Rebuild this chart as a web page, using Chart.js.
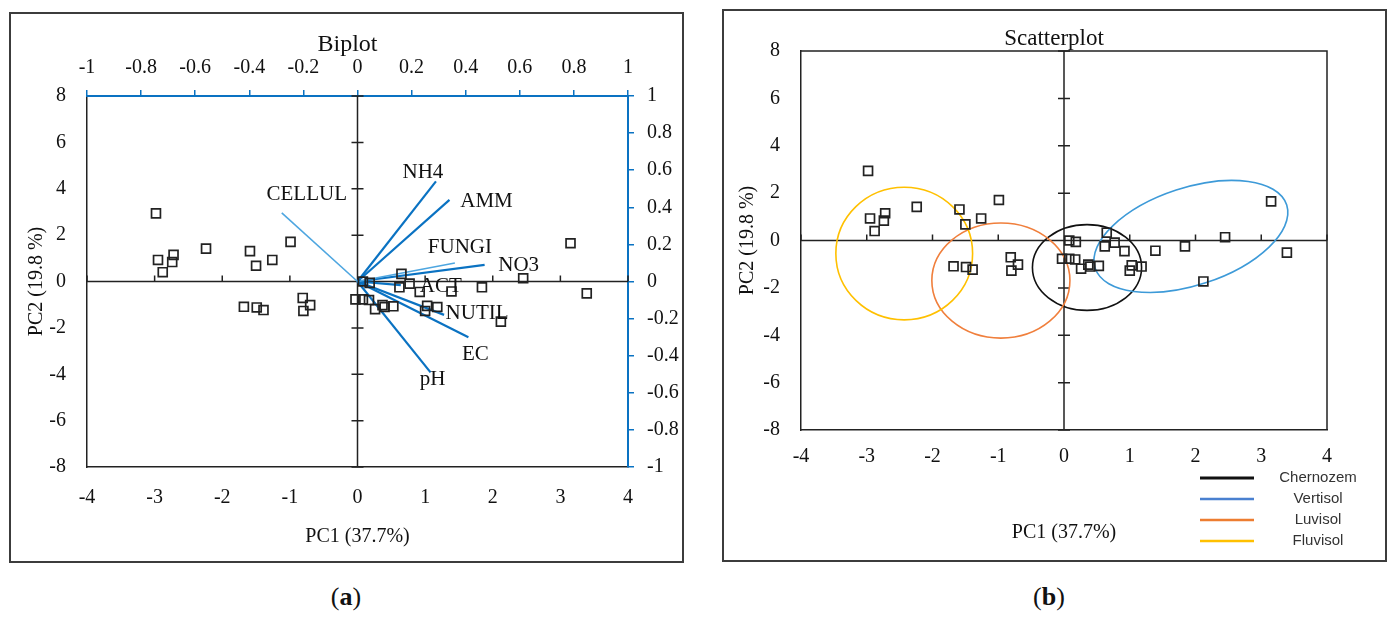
<!DOCTYPE html>
<html lang="en">
<head>
<meta charset="UTF-8">
<title>PCA Biplot and Scatterplot</title>
<script src="https://cdn.jsdelivr.net/npm/chart.js"></script>
<style>
    body {
        margin: 0;
        background: #fff;
        width: 1388px;
        height: 622px;
        position: relative;
        overflow: hidden;
        font-family: 'Liberation Serif', serif;
    }
    .frame {
        position: absolute;
        border: 2px solid #3c3c3c;
        box-sizing: border-box;
    }
    #frameA { left: 9px; top: 12px; width: 675px; height: 551px; }
    #frameB { left: 722px; top: 9px; width: 665px; height: 553px; }
    canvas { position: absolute; left: 0; top: 0; }
    .caption {
        position: absolute;
        width: 100px;
        top: 582px;
        text-align: center;
        font-size: 26px;
        line-height: 30px;
        color: #111;
    }
</style>
</head>
<body>
<div class="frame" id="frameA"><canvas id="biplot" width="671" height="547"></canvas></div>
<div class="frame" id="frameB"><canvas id="scatter" width="661" height="549"></canvas></div>
<div class="caption" style="left:296px">(<b>a</b>)</div>
<div class="caption" style="left:999px">(<b>b</b>)</div>

<script>
    // sample scores (same samples in both panels)
    const pc1 = [-2.98, -2.95, -2.72, -2.74, -2.88, -2.24, -1.59, -1.50, -1.26, -0.99,
                 -1.68, -1.49, -1.39, -0.81, -0.70, -0.80, -0.03, 0.08, 0.17, 0.08,
                 0.18, 0.65, 0.62, 0.77, 0.92, 1.39, 1.84, 0.26, 0.37, 0.40,
                 0.53, 1.03, 1.18, 1.00, 2.12, 2.45, 3.15, 3.39];
    const pc2 = [2.94, 0.93, 1.15, 0.84, 0.40, 1.42, 1.31, 0.68, 0.93, 1.71,
                 -1.09, -1.12, -1.23, -0.71, -1.02, -1.27, -0.77, -0.77, -0.80, 0.00,
                 -0.06, 0.33, -0.25, -0.09, -0.45, -0.43, -0.25, -1.19, -1.02, -1.10,
                 -1.07, -1.05, -1.10, -1.27, -1.73, 0.14, 1.65, -0.51];

    // variable loadings (top / right axes)
    const loadingNames = ['CELLUL', 'NH4', 'AMM', 'FUNGI', 'NO3', 'ACT', 'NUTIL', 'EC', 'pH'];
    const loadingX = [-0.28, 0.29, 0.34, 0.36, 0.47, 0.16, 0.32, 0.41, 0.27];
    const loadingY = [0.37, 0.54, 0.44, 0.10, 0.09, -0.02, -0.18, -0.30, -0.49];

    // soil groups: ellipse centre, semi-axes (data units) and tilt (deg)
    const groupNames = ['Chernozem', 'Vertisol', 'Luvisol', 'Fluvisol'];
    const groupCx = [0.35, 1.93, -0.96, -2.43];
    const groupCy = [-1.14, 0.17, -1.69, -0.55];
    const groupRx = [0.83, 2.48, 1.05, 1.04];
    const groupRy = [1.81, 1.27, 2.43, 2.80];
    const groupAngle = [0, 69.4, 0, 0];

    const bottomTicksPC1 = [-4, 4, 1];
    const leftTicksPC2 = [-8, 8, 2];
    const loadingTicks = [-1, 1, 0.2];

    // styling
    const serif = "'Liberation Serif', 'Times New Roman', serif";
    const blue = '#0a72c2';
    const lightBlue = '#4ea6e0';
    const ink = '#111';
    const lightVectors = ['CELLUL', 'FUNGI'];
    const labelOffsets = {
        CELLUL: [25, -18], NH4: [-13, -9], AMM: [37, 2], FUNGI: [5, -15], NO3: [34, 1],
        ACT: [40, 1], NUTIL: [33, -1], EC: [7, 17], pH: [2, 7]
    };
    const ellipseColors = ['#111111', '#3d9ad8', '#f07f3c', '#ffc000'];
    const legendColors = ['#111111', '#4a80d0', '#ed7d31', '#ffc000'];

    const tickFont = { family: serif, size: 20 };
    const axisTitleFont = { family: serif, size: 20 };
    const fmt = v => String(Math.round(v * 10) / 10);

    // cross axes through the origin with their own tick marks
    const crossAxes = {
        id: 'crossAxes',
        beforeDatasetsDraw(chart) {
            const { ctx, chartArea: a, scales: { x, y } } = chart;
            const x0 = x.getPixelForValue(0), y0 = y.getPixelForValue(0);
            ctx.save();
            ctx.strokeStyle = '#222';
            ctx.lineWidth = 1.5;
            ctx.beginPath();
            ctx.moveTo(a.left, y0); ctx.lineTo(a.right, y0);
            ctx.moveTo(x0, a.top); ctx.lineTo(x0, a.bottom);
            x.ticks.forEach(t => {
                if (t.value === 0) return;
                const p = x.getPixelForValue(t.value);
                ctx.moveTo(p, y0); ctx.lineTo(p, y0 - 6);
            });
            y.ticks.forEach(t => {
                if (t.value === 0) return;
                const p = y.getPixelForValue(t.value);
                ctx.moveTo(x0 - 6, p); ctx.lineTo(x0 + 6, p);
            });
            ctx.stroke();
            ctx.restore();
        }
    };

    function chartTitle(text, size, rise) {
        return {
            id: 'chartTitle',
            afterDraw(chart) {
                const { ctx, chartArea: a } = chart;
                ctx.save();
                ctx.font = size + 'px ' + serif;
                ctx.fillStyle = ink;
                ctx.textAlign = 'center';
                ctx.textBaseline = 'alphabetic';
                ctx.fillText(text, (a.left + a.right) / 2 - 10, a.top - rise);
                ctx.restore();
            }
        };
    }

    const vectorLabels = {
        id: 'vectorLabels',
        afterDatasetsDraw(chart) {
            const { ctx, scales: { x2, y2 } } = chart;
            ctx.save();
            ctx.font = '21px ' + serif;
            ctx.fillStyle = ink;
            ctx.textAlign = 'center';
            ctx.textBaseline = 'middle';
            loadingNames.forEach((n, i) => {
                const off = labelOffsets[n];
                ctx.fillText(n, x2.getPixelForValue(loadingX[i]) + off[0], y2.getPixelForValue(loadingY[i]) + off[1]);
            });
            ctx.restore();
        }
    };

    const boxFrame = {
        id: 'boxFrame',
        afterDatasetsDraw(chart) {
            const { ctx, chartArea: a } = chart;
            ctx.save();
            ctx.strokeStyle = '#222';
            ctx.lineWidth = 1.5;
            ctx.beginPath();
            ctx.moveTo(a.left, a.top); ctx.lineTo(a.right, a.top); ctx.lineTo(a.right, a.bottom);
            ctx.stroke();
            ctx.restore();
        }
    };

    const groupEllipses = {
        id: 'groupEllipses',
        beforeDatasetsDraw(chart) {
            const { ctx, scales: { x, y } } = chart;
            const sx = x.getPixelForValue(1) - x.getPixelForValue(0);
            const sy = y.getPixelForValue(0) - y.getPixelForValue(1);
            groupNames.forEach((n, i) => {
                ctx.save();
                ctx.translate(x.getPixelForValue(groupCx[i]), y.getPixelForValue(groupCy[i]));
                ctx.scale(sx, -sy);
                ctx.rotate(groupAngle[i] * Math.PI / 180);
                ctx.beginPath();
                ctx.ellipse(0, 0, groupRx[i], groupRy[i], 0, 0, Math.PI * 2);
                ctx.restore();
                ctx.save();
                ctx.strokeStyle = ellipseColors[i];
                ctx.lineWidth = 1.6;
                ctx.stroke();
                ctx.restore();
            });
        }
    };

    const groupLegend = {
        id: 'groupLegend',
        afterDraw(chart) {
            const { ctx, chartArea: a } = chart;
            ctx.save();
            ctx.font = "15px 'Liberation Sans', Arial, sans-serif";
            ctx.fillStyle = '#333';
            ctx.textAlign = 'center';
            ctx.textBaseline = 'middle';
            groupNames.forEach((n, i) => {
                const yy = a.bottom + 48 + i * 21;
                ctx.strokeStyle = legendColors[i];
                ctx.lineWidth = i === 0 ? 3 : 2.5;
                ctx.beginPath();
                ctx.moveTo(a.right - 127, yy); ctx.lineTo(a.right - 73, yy);
                ctx.stroke();
                ctx.fillText(n, a.right - 9, yy);
            });
            ctx.restore();
        }
    };

    function linearAxis(range, position, pad, extra) {
        return Object.assign({
            type: 'linear',
            position: position,
            min: range[0],
            max: range[1],
            ticks: { stepSize: range[2], font: tickFont, color: ink, padding: pad, autoSkip: false, maxRotation: 0 },
            grid: { display: false, drawTicks: false },
            border: { display: true, color: '#222', width: 1.5 }
        }, extra);
    }

    const samplePoints = pc1.map((v, i) => ({ x: v, y: pc2[i] }));
    const sampleStyle = {
        pointStyle: 'rect', pointRadius: 6.3, borderColor: '#222', borderWidth: 1.7,
        backgroundColor: 'rgba(0,0,0,0)', showLine: false
    };

    // (a) Biplot
    const blueTicks = { display: true, drawOnChartArea: false, drawTicks: true, tickLength: 6, color: blue, lineWidth: 1.5 };
    new Chart(document.getElementById('biplot'), {
        type: 'scatter',
        data: {
            datasets: [
                Object.assign({ label: 'samples', data: samplePoints }, sampleStyle),
                ...loadingNames.map((n, i) => ({
                    label: n,
                    data: [{ x: 0, y: 0 }, { x: loadingX[i], y: loadingY[i] }],
                    xAxisID: 'x2', yAxisID: 'y2',
                    showLine: true, pointRadius: 0,
                    borderColor: lightVectors.includes(n) ? lightBlue : blue,
                    borderWidth: lightVectors.includes(n) ? 1.6 : 2.2
                }))
            ]
        },
        options: {
            responsive: false,
            animation: false,
            layout: { padding: 0, autoPadding: false },
            plugins: { legend: { display: false }, tooltip: { enabled: false }, title: { display: false } },
            scales: {
                x: linearAxis(bottomTicksPC1, 'bottom', 19, {
                    title: { display: true, text: 'PC1 (37.7%)', font: axisTitleFont, color: ink, padding: { top: 0, bottom: 12 } },
                    afterFit(s) { s.height = 94; }
                }),
                y: linearAxis(leftTicksPC2, 'left', 21, {
                    title: { display: true, text: 'PC2 (19.8 %)', font: axisTitleFont, color: ink, padding: { top: 14, bottom: 0 } },
                    afterFit(s) { s.width = 76; }
                }),
                x2: linearAxis(loadingTicks, 'top', 10, {
                    ticks: { stepSize: 0.2, font: tickFont, color: ink, padding: 10, autoSkip: false, maxRotation: 0, callback: fmt },
                    grid: blueTicks,
                    border: { display: true, color: blue, width: 2 },
                    afterFit(s) { s.height = 82; }
                }),
                y2: linearAxis(loadingTicks, 'right', 13, {
                    ticks: { stepSize: 0.2, font: tickFont, color: ink, padding: 13, autoSkip: false, callback: fmt },
                    grid: blueTicks,
                    border: { display: true, color: blue, width: 2 },
                    afterFit(s) { s.width = 54; }
                })
            }
        },
        plugins: [crossAxes, vectorLabels, chartTitle('Biplot', 24, 45)]
    });

    // (b) Scatterplot with soil-group ellipses
    new Chart(document.getElementById('scatter'), {
        type: 'scatter',
        data: {
            datasets: [Object.assign({ label: 'samples', data: samplePoints }, sampleStyle)]
        },
        options: {
            responsive: false,
            animation: false,
            layout: { padding: { top: 40, right: 58, left: 0, bottom: 0 }, autoPadding: false },
            plugins: { legend: { display: false }, tooltip: { enabled: false }, title: { display: false } },
            scales: {
                x: linearAxis(bottomTicksPC1, 'bottom', 15, {
                    title: { display: true, text: 'PC1 (37.7%)', font: axisTitleFont, color: ink, padding: { top: 0, bottom: 15 } },
                    afterFit(s) { s.height = 130; }
                }),
                y: linearAxis(leftTicksPC2, 'left', 21, {
                    title: { display: true, text: 'PC2 (19.8 %)', font: axisTitleFont, color: ink, padding: { top: 12, bottom: 0 } },
                    afterFit(s) { s.width = 77; }
                })
            }
        },
        plugins: [crossAxes, groupEllipses, boxFrame, groupLegend, chartTitle('Scatterplot', 23, 6)]
    });
</script>
</body>
</html>
